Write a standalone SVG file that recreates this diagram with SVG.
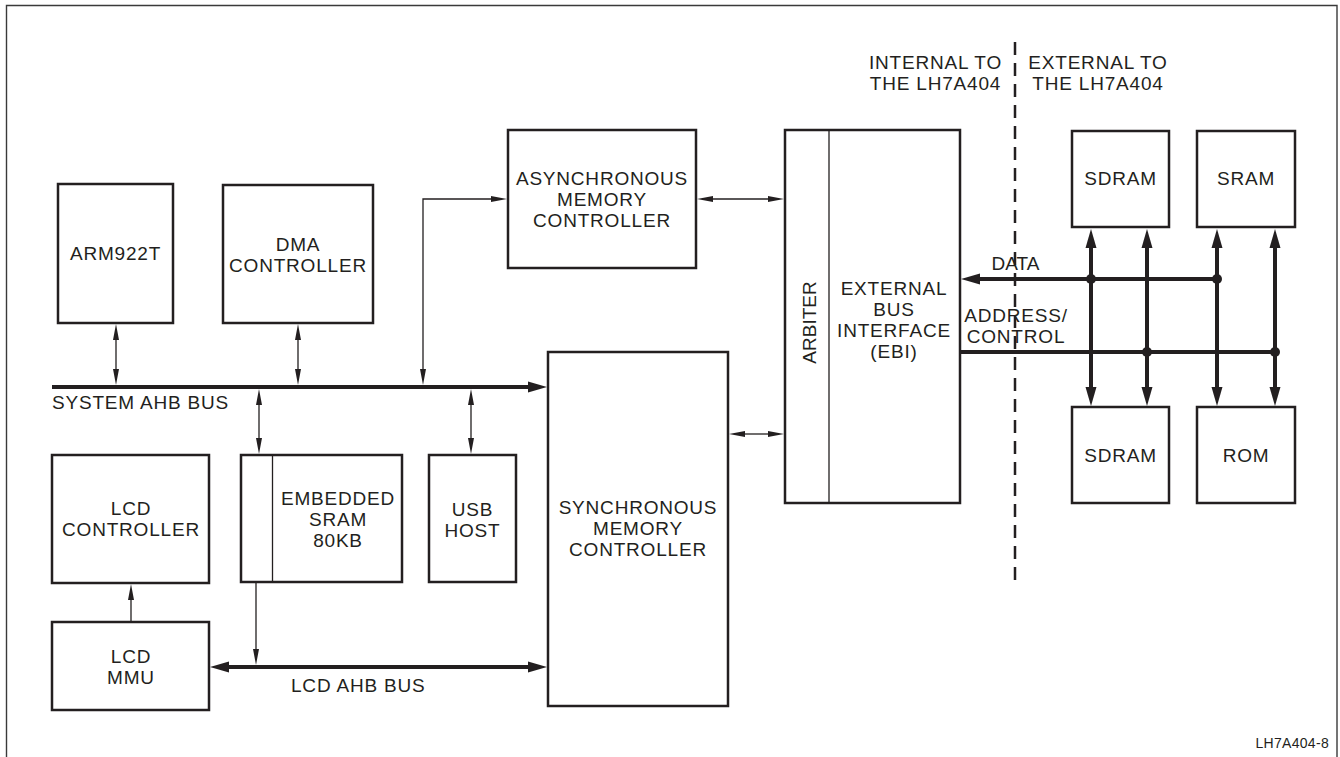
<svg xmlns="http://www.w3.org/2000/svg" width="1340" height="757" viewBox="0 0 1340 757">
<style>
  .box{fill:#fff;stroke:#231f20;stroke-width:2.5}
  .div{stroke:#231f20;stroke-width:1.3;fill:none}
  .t{font-family:"Liberation Sans",Arial,Helvetica,sans-serif;font-size:19px;letter-spacing:0.8px;fill:#231f20;text-anchor:middle}
  .ts{text-anchor:start}
  .small{font-size:14px;letter-spacing:0.3px;text-anchor:end}
  .thin{stroke:#231f20;stroke-width:1.3;fill:none;marker-start:url(#ah);marker-end:url(#ah)}
  .thin1{stroke:#231f20;stroke-width:1.3;fill:none;marker-end:url(#ah)}
  .thick{stroke:#231f20;stroke-width:4;fill:none}
  .thick2{marker-start:url(#bh);marker-end:url(#bh)}
  .thick1{marker-end:url(#bh)}
  .dot{fill:#231f20}
</style>
<defs>
  <marker id="ah" markerUnits="userSpaceOnUse" markerWidth="17" markerHeight="8" refX="0" refY="4" orient="auto-start-reverse" overflow="visible">
    <path d="M0,1 L16,4 L0,7 Z" fill="#231f20"/>
  </marker>
  <marker id="bh" markerUnits="userSpaceOnUse" markerWidth="20" markerHeight="12" refX="0" refY="6" orient="auto-start-reverse" overflow="visible">
    <path d="M0,0.5 L19,6 L0,11.5 Z" fill="#231f20"/>
  </marker>
</defs>
<rect x="0" y="0" width="1340" height="757" fill="#fff"/>
<path d="M6.5,757 L6.5,5.5 L1337,5.5 L1337,757" fill="none" stroke="#3a3a3a" stroke-width="1.4"/>

<g id="labels">
  <text class="t" x="935.5" y="69">INTERNAL TO</text>
  <text class="t" x="935.5" y="90">THE LH7A404</text>
  <text class="t" x="1098" y="69">EXTERNAL TO</text>
  <text class="t" x="1098" y="90">THE LH7A404</text>
  <text class="t ts" x="52" y="409">SYSTEM AHB BUS</text>
  <text class="t ts" x="291" y="692">LCD AHB BUS</text>
  <text class="t" x="1015.5" y="270" style="letter-spacing:0">DATA</text>
  <text class="t" x="1016" y="322">ADDRESS/</text>
  <text class="t" x="1016" y="343">CONTROL</text>
  <text class="t small" x="1329" y="748">LH7A404-8</text>
</g>

<line id="boundary" x1="1015" y1="42" x2="1015" y2="582" stroke="#231f20" stroke-width="2.5" stroke-dasharray="13,8"/>

<g id="arm922t">
  <rect class="box" x="58" y="184" width="115" height="139"/>
  <text class="t" x="115.5" y="260">ARM922T</text>
</g>
<g id="dma">
  <rect class="box" x="223" y="185" width="150" height="138"/>
  <text class="t" x="298" y="251">DMA</text>
  <text class="t" x="298" y="272">CONTROLLER</text>
</g>
<g id="async">
  <rect class="box" x="508" y="130" width="188" height="138"/>
  <text class="t" x="602" y="185">ASYNCHRONOUS</text>
  <text class="t" x="602" y="206">MEMORY</text>
  <text class="t" x="602" y="227">CONTROLLER</text>
</g>
<g id="ebi">
  <rect class="box" x="785" y="130" width="175" height="373"/>
  <line class="div" x1="829" y1="130" x2="829" y2="503"/>
  <text class="t" transform="translate(816,322.5) rotate(-90)" x="0" y="0" style="letter-spacing:0">ARBITER</text>
  <text class="t" x="894" y="295">EXTERNAL</text>
  <text class="t" x="894" y="316">BUS</text>
  <text class="t" x="894" y="337">INTERFACE</text>
  <text class="t" x="894" y="358">(EBI)</text>
</g>
<g id="sync">
  <rect class="box" x="548" y="352" width="180" height="354"/>
  <text class="t" x="638" y="514">SYNCHRONOUS</text>
  <text class="t" x="638" y="535">MEMORY</text>
  <text class="t" x="638" y="556">CONTROLLER</text>
</g>
<g id="sram-embedded">
  <rect class="box" x="241" y="455" width="161" height="127"/>
  <line class="div" x1="272.5" y1="455" x2="272.5" y2="582"/>
  <text class="t" x="338" y="505">EMBEDDED</text>
  <text class="t" x="338" y="526">SRAM</text>
  <text class="t" x="338" y="547">80KB</text>
</g>
<g id="usb">
  <rect class="box" x="429" y="455" width="87" height="127"/>
  <text class="t" x="472.5" y="516">USB</text>
  <text class="t" x="472.5" y="537">HOST</text>
</g>
<g id="lcd-controller">
  <rect class="box" x="52" y="455" width="157" height="128"/>
  <text class="t" x="131" y="515">LCD</text>
  <text class="t" x="131" y="536">CONTROLLER</text>
</g>
<g id="lcd-mmu">
  <rect class="box" x="52" y="622" width="157" height="88"/>
  <text class="t" x="131" y="663">LCD</text>
  <text class="t" x="131" y="684">MMU</text>
</g>
<g id="sdram1">
  <rect class="box" x="1072" y="131" width="97" height="96"/>
  <text class="t" x="1120.5" y="185">SDRAM</text>
</g>
<g id="sram">
  <rect class="box" x="1197" y="131" width="98" height="96"/>
  <text class="t" x="1246" y="185">SRAM</text>
</g>
<g id="sdram2">
  <rect class="box" x="1072" y="407" width="97" height="96"/>
  <text class="t" x="1120.5" y="462">SDRAM</text>
</g>
<g id="rom">
  <rect class="box" x="1197" y="407" width="98" height="96"/>
  <text class="t" x="1246" y="462">ROM</text>
</g>

<g id="connectors">
  <line class="thin" x1="116" y1="340" x2="116" y2="369"/>
  <line class="thin" x1="298" y1="340" x2="298" y2="369"/>
  <path class="thin" d="M423,369 L423,199 L491,199"/>
  <line class="thin" x1="713" y1="199" x2="768" y2="199"/>
  <line class="thin" x1="745" y1="434" x2="768" y2="434"/>
  <line class="thin" x1="259" y1="405" x2="259" y2="438"/>
  <line class="thin" x1="471" y1="405" x2="471" y2="438"/>
  <line class="thin1" x1="256" y1="583" x2="256" y2="649"/>
  <line class="thin1" x1="131" y1="621" x2="131" y2="600"/>

  <line class="thick thick1" x1="52" y1="387" x2="528" y2="387"/>
  <line class="thick thick2" x1="229" y1="667" x2="528" y2="667"/>
  <line class="thick thick1" x1="1217" y1="279" x2="980" y2="279"/>
  <line class="thick" x1="961" y1="352" x2="1275" y2="352"/>
  <line class="thick thick2" x1="1091" y1="248" x2="1091" y2="387"/>
  <line class="thick thick2" x1="1147" y1="248" x2="1147" y2="387"/>
  <line class="thick thick2" x1="1217" y1="248" x2="1217" y2="387"/>
  <line class="thick thick2" x1="1275" y1="248" x2="1275" y2="387"/>
  <circle class="dot" cx="1091" cy="279" r="5"/>
  <circle class="dot" cx="1217" cy="279" r="5"/>
  <circle class="dot" cx="1147" cy="352" r="5"/>
  <circle class="dot" cx="1275" cy="352" r="5"/>
</g>
</svg>
